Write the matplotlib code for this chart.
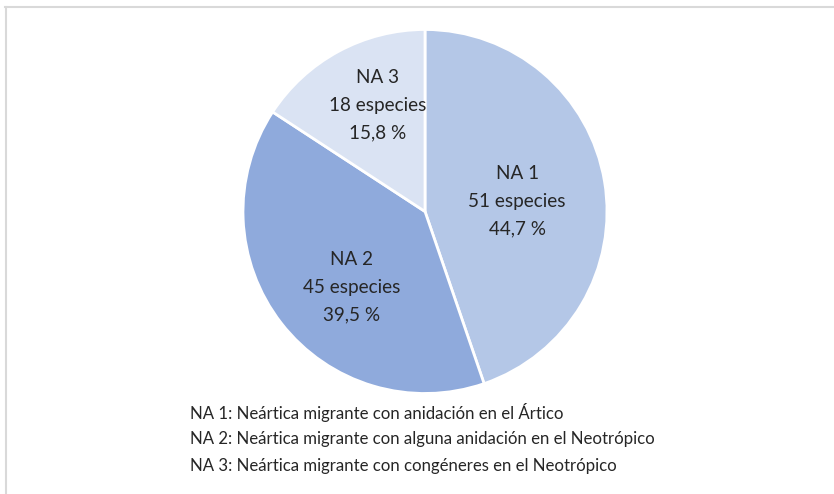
import numpy as np
import matplotlib.pyplot as plt
from matplotlib.lines import Line2D

# Data
labels = ["NA 1", "NA 2", "NA 3"]
species = [51, 45, 18]
percents = ["44,7 %", "39,5 %", "15,8 %"]
colors = ["#B4C7E7", "#8FAADC", "#DAE3F3"]
legend_lines = [
    "NA 1: Neártica migrante con anidación en el Ártico",
    "NA 2: Neártica migrante con alguna anidación en el Neotrópico",
    "NA 3: Neártica migrante con congéneres en el Neotrópico",
]

# label placement (radial fraction, angle nudge in degrees) -- mimics Excel best fit
label_pos = [(0.51, -3.0), (0.58, 8.0), (0.64, -4.5)]

plt.rcParams['font.family'] = ['Lato', 'DejaVu Sans']
W, H = 834, 494
fig = plt.figure(figsize=(W / 100, H / 100), dpi=100)

# pie axes: center (425, 211.5) px, radius 182 px
cx, cy, r = 425, 211.5, 182
ax = fig.add_axes([(cx - r) / W, (H - cy - r) / H, 2 * r / W, 2 * r / H])
wedges, _ = ax.pie(species, colors=colors, startangle=90, counterclock=False,
                   wedgeprops=dict(edgecolor='white', linewidth=2))
ax.set_xlim(-1, 1)
ax.set_ylim(-1, 1)
ax.set_aspect('equal')
ax.axis('off')

for w, lab, n, p, (dist, nudge) in zip(wedges, labels, species, percents, label_pos):
    ang = np.deg2rad((w.theta1 + w.theta2) / 2 + nudge)
    x, y = dist * np.cos(ang), dist * np.sin(ang)
    ax.text(x, y, f"{lab}\n{n} especies\n{p}", ha='center', va='center',
            fontsize=13.6, color='#262626', linespacing=1.75)

# description lines below the pie
for i, line in enumerate(legend_lines):
    fig.text(190 / W, 1 - (412 + 27 * i) / H, line, ha='left', va='center',
             fontsize=12.1, color='#262626')

# light frame (top and left edges visible)
fig.add_artist(Line2D([5 / W, 1], [1 - 7.5 / H] * 2, color='#D9D9D9', lw=1.5,
                      transform=fig.transFigure))
fig.add_artist(Line2D([6 / W] * 2, [0, 1 - 7.5 / H], color='#D9D9D9', lw=1.5,
                      transform=fig.transFigure))

fig.savefig("out.png", dpi=100)
